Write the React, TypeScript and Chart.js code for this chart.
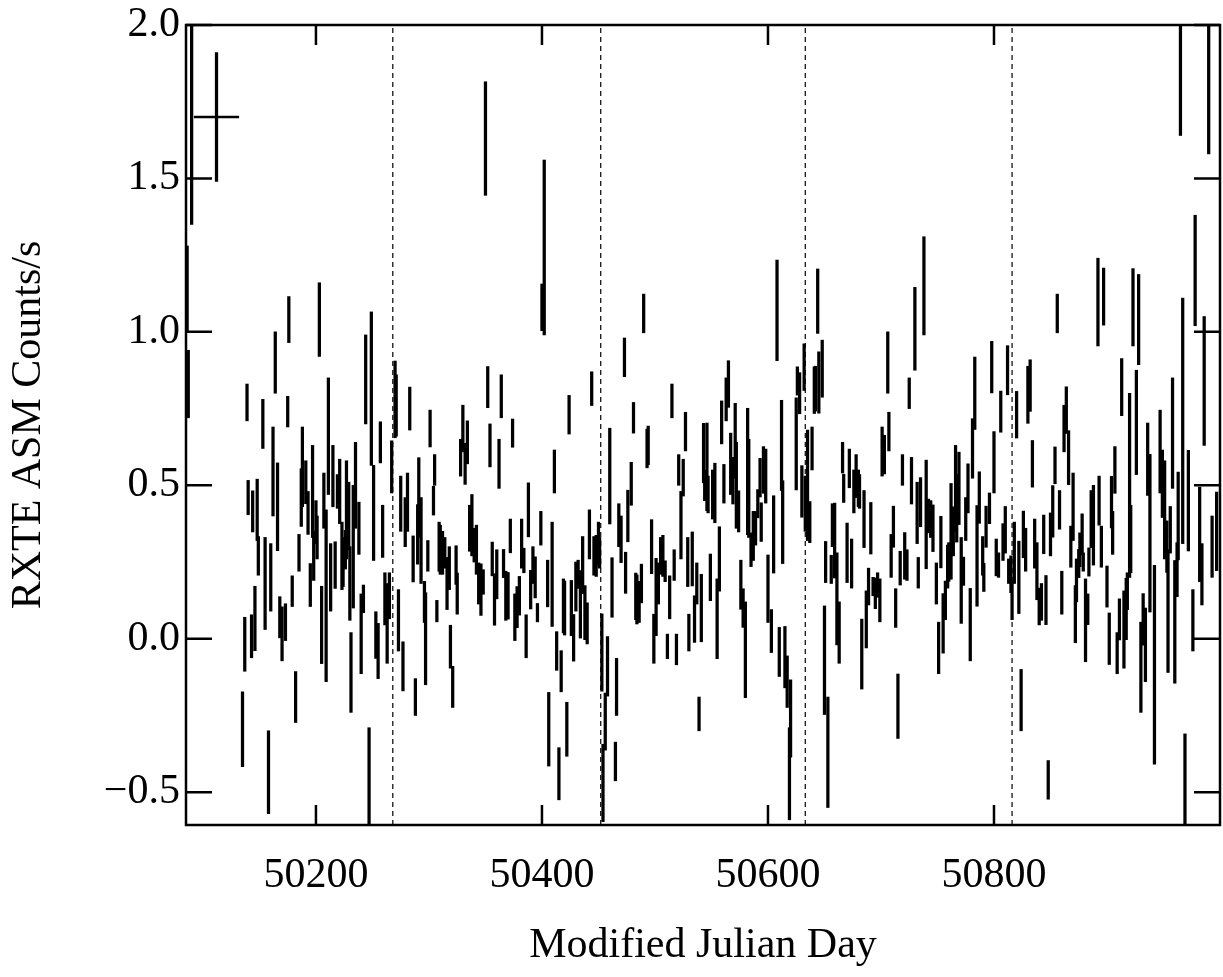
import React, { useEffect, useRef } from "react";
import { Chart, registerables } from "chart.js";

Chart.register(...registerables);

// Modified Julian Day of each 1-day average
const MJD = [
  50086, 50087, 50090, 50135, 50137, 50139, 50140, 50143, 50144, 50146,
  50148, 50149, 50153, 50155, 50158, 50160, 50162, 50164, 50166, 50168,
  50170, 50173, 50175, 50176, 50179, 50182, 50185, 50187, 50188, 50191,
  50193, 50195, 50197, 50198, 50200, 50201, 50203, 50205, 50207, 50209,
  50211, 50213, 50215, 50217, 50219, 50221, 50223, 50224, 50226, 50227,
  50229, 50230, 50231, 50233, 50235, 50238, 50240, 50242, 50244, 50247,
  50249, 50251, 50253, 50255, 50257, 50259, 50261, 50263, 50265, 50267,
  50270, 50271, 50273, 50275, 50277, 50279, 50281, 50283, 50286, 50288,
  50290, 50291, 50293, 50296, 50297, 50299, 50301, 50304, 50305, 50307,
  50309, 50310, 50312, 50314, 50316, 50318, 50319, 50321, 50324, 50325,
  50328, 50330, 50332, 50334, 50336, 50338, 50340, 50342, 50344, 50346,
  50348, 50350, 50352, 50354, 50356, 50358, 50360, 50362, 50364, 50366,
  50368, 50370, 50372, 50374, 50376, 50378, 50380, 50382, 50384, 50386,
  50388, 50390, 50392, 50394, 50396, 50399, 50400, 50402, 50405, 50406,
  50409, 50411, 50413, 50415, 50417, 50419, 50420, 50422, 50424, 50426,
  50428, 50430, 50432, 50434, 50436, 50438, 50440, 50442, 50444, 50446,
  50448, 50450, 50451, 50453, 50454, 50456, 50458, 50460, 50462, 50465,
  50466, 50468, 50470, 50473, 50474, 50476, 50479, 50481, 50483, 50484,
  50486, 50488, 50490, 50493, 50494, 50497, 50499, 50501, 50503, 50505,
  50507, 50509, 50511, 50513, 50515, 50517, 50519, 50521, 50523, 50525,
  50527, 50529, 50530, 50533, 50535, 50537, 50539, 50541, 50543, 50544,
  50546, 50547, 50549, 50551, 50553, 50555, 50557, 50559, 50561, 50563,
  50565, 50567, 50569, 50571, 50572, 50574, 50576, 50578, 50580, 50582,
  50583, 50585, 50587, 50589, 50591, 50593, 50594, 50596, 50598, 50600,
  50603, 50605, 50608, 50610, 50612, 50613, 50615, 50617, 50619, 50620,
  50625, 50626, 50628, 50630, 50632, 50633, 50635, 50637, 50639, 50641,
  50642, 50644, 50645, 50648, 50650, 50651, 50653, 50656, 50657, 50659,
  50661, 50663, 50666, 50667, 50670, 50672, 50674, 50676, 50678, 50680,
  50681, 50683, 50685, 50687, 50689, 50691, 50693, 50695, 50697, 50699,
  50701, 50703, 50706, 50707, 50709, 50711, 50713, 50715, 50717, 50719,
  50721, 50723, 50725, 50727, 50730, 50732, 50733, 50735, 50738, 50740,
  50742, 50744, 50746, 50749, 50751, 50753, 50755, 50757, 50759, 50760,
  50762, 50764, 50766, 50767, 50769, 50771, 50773, 50775, 50777, 50779,
  50781, 50783, 50785, 50787, 50790, 50791, 50793, 50796, 50798, 50800,
  50802, 50804, 50806, 50808, 50810, 50812, 50813, 50815, 50816, 50818,
  50820, 50822, 50824, 50826, 50828, 50830, 50832, 50834, 50836, 50838,
  50840, 50842, 50844, 50846, 50848, 50850, 50852, 50854, 50856, 50858,
  50860, 50862, 50864, 50866, 50868, 50870, 50872, 50873, 50875, 50876,
  50878, 50879, 50881, 50883, 50884, 50886, 50888, 50892, 50893, 50895,
  50897, 50900, 50902, 50904, 50905, 50907, 50909, 50911, 50913, 50915,
  50917, 50918, 50920, 50921, 50923, 50926, 50928, 50930, 50932, 50934,
  50936, 50938, 50942, 50947, 50949, 50951, 50953, 50954, 50956, 50958,
  50960, 50962, 50963, 50965, 50967, 50969, 50972, 50976, 50978, 50982,
  50984, 50986, 50990, 50993, 50997,
];

// ASM count rate (counts/s)
const RATE = [
  1.14, 0.83, 1.70, -0.295, -0.018, 0.77, 0.46, 0.008, 0.415, 0.066,
  0.42, 0.27, 0.70, 0.18, -0.435, 0.20, 0.545, 0.90, 0.43, 0.07,
  0.016, 0.054, 0.74, 1.04, 0.155, -0.19, 0.28, 0.46, 0.56, 0.51,
  0.41, 0.175, 0.48, 0.27, 0.38, 0.33, 1.04, 0.045, 0.45, 0.14,
  0.66, 0.20, 0.53, 0.24, 0.48, 0.48, 0.27, 0.25, 0.29, 0.42,
  0.40, 0.18, -0.11, 0.30, 0.50, 0.36, 0.016, 0.13, 0.845, -0.45,
  0.815, 0.41, 0.012, -0.04, 0.64, 0.35, 0.13, 0.05, 0.14, 0.56,
  0.78, 0.76, 0.06, 0.44, -0.09, 0.38, 0.445, 0.75, 0.26, -0.19,
  0.34, 0.46, 0.32, 0.12, 0.00, 0.27, 0.685, 0.45, 0.55, 0.09,
  0.30, 0.29, 0.28, 0.28, 0.18, 0.23, -0.026, -0.157, 0.24, 0.147,
  0.59, 0.685, 0.57, 0.64, 0.36, 0.37, 0.305, 0.29, 0.18, 0.16,
  0.185, 1.63, 0.82, 0.63, 0.26, 0.128, 0.21, 0.57, 0.79, 0.245,
  0.14, 0.14, 0.335, 0.67, 0.07, 0.103, 0.14, 0.31, 0.255, 0.008,
  0.42, 0.16, 0.24, 0.20, 0.085, 0.36, 1.08, 1.275, 0.18, -0.295,
  0.21, 0.545, -0.04, -0.44, -0.106, 0.107, 0.10, -0.295, 0.73, 0.10,
  0.003, 0.17, 0.21, 0.112, 0.24, 0.085, 0.05, 0.34, 0.815, 0.27,
  0.27, 0.31, 0.28, -0.045, -0.47, -0.27, -0.09, 0.53, 0.167, -0.40,
  -0.157, 0.37, 0.324, 0.917, 0.215, 0.40, 0.505, 0.72, 0.138, 0.128,
  0.12, 0.18, 1.06, 0.62, 0.63, 0.30, 0.00, 0.136, 0.18, 0.27,
  0.27, 0.22, -0.025, 0.135, 0.775, 0.24, -0.035, 0.55, 0.37, 0.525,
  0.675, 0.25, 0.02, 0.26, 0.064, 0.18, -0.245, 0.10, 0.605, 0.50,
  0.56, 0.47, 0.20, 0.47, 0.475, 0.065, 0.26, 0.705, 0.505, 0.78,
  0.83, 0.57, 0.515, 0.645, 0.50, 0.415, 0.176, 0.10, -0.036, 0.545,
  0.49, 0.29, 0.335, 0.36, 0.44, 0.525, 0.38, 0.55, 0.53, 0.163,
  0.025, 0.34, 1.07, -0.043, 0.63, 0.38, -0.06, -0.14, -0.44, -0.26,
  0.635, 0.84, 0.80, 0.48, 0.885, 0.44, 0.50, 0.38, 0.62, 0.81,
  0.815, 1.10, 0.835, 0.88, -0.07, 0.25, -0.37, 0.226, 0.37, 0.32,
  0.13, 0.02, 0.59, 0.49, 0.28, 0.555, 0.245, 0.48, 0.53, 0.49,
  0.48, -0.05, 0.39, 0.063, 0.17, 0.36, 0.17, 0.148, 0.175, 0.125,
  0.61, 0.60, 0.90, 0.675, 0.27, 0.365, 0.10, -0.22, 0.23, 0.55,
  0.27, 0.24, 0.80, 0.515, 1.01, 0.41, 0.215, 0.445, 1.15, 0.405,
  0.40, 0.39, 0.36, 0.18, -0.03, 0.315, 0.05, 0.125, 0.235, 0.25,
  0.35, 0.35, 0.49, 0.425, 0.49, 0.19, 0.22, 0.39, 0.49, 0.046,
  0.62, 0.80, 0.27, 0.46, 0.27, 0.20, 0.365, 0.425, 0.885, 0.575,
  0.265, 0.24, 0.74, 0.315, 0.355, 0.875, 0.22, 0.21, 0.125, 0.28,
  0.73, 0.20, -0.20, 0.34, 0.29, 0.795, 0.825, 0.57, 0.31, 0.22,
  0.105, 0.12, 0.34, 0.126, -0.46, 0.34, 0.415, 0.565, 1.06, 0.42,
  0.15, 0.685, 0.745, 0.59, 0.30, 0.43, 0.08, 0.19, 0.245, 0.29,
  0.34, 0.25, 0.06, 0.096, 0.25, 0.39, 0.37, 1.097, 0.45, 0.30,
  1.115, 0.17, 0.00, 0.445, 0.345, 0.55, -0.047, 0.063, 0.82, 0.03,
  0.097, 0.155, 0.50, 0.325, 1.08, 0.705, 1.04, -0.093, 0.063, -0.02,
  0.585, 0.344, -0.085, 0.61, 0.505, 0.42, 0.30, 0.09, 0.355, 0.67,
  0.055, 0.225, 0.40, 1.82, 0.71, -0.46, 0.45, 0.06, 1.20, 0.34,
  0.21, 0.84, 1.80, 0.30, 0.35,
];

// 1-sigma uncertainty of the rate
const ERR = [
  0.14, 0.11, 0.35, 0.122, 0.088, 0.06, 0.056, 0.07, 0.067, 0.105,
  0.10, 0.063, 0.08, 0.15, 0.135, 0.11, 0.145, 0.10, 0.143, 0.067,
  0.088, 0.06, 0.05, 0.075, 0.05, 0.083, 0.06, 0.094, 0.13, 0.07,
  0.07, 0.07, 0.15, 0.08, 0.07, 0.07, 0.12, 0.126, 0.09, 0.28,
  0.19, 0.11, 0.10, 0.076, 0.055, 0.105, 0.11, 0.08, 0.063, 0.16,
  0.11, 0.12, 0.13, 0.20, 0.14, 0.085, 0.13, 0.045, 0.145, 0.16,
  0.25, 0.155, 0.076, 0.09, 0.067, 0.085, 0.085, 0.13, 0.075, 0.085,
  0.125, 0.10, 0.10, 0.09, 0.08, 0.08, 0.095, 0.07, 0.075, 0.06,
  0.097, 0.13, 0.14, 0.067, 0.15, 0.05, 0.06, 0.047, 0.05, 0.035,
  0.08, 0.08, 0.07, 0.05, 0.085, 0.07, 0.07, 0.067, 0.063, 0.067,
  0.06, 0.076, 0.067, 0.07, 0.075, 0.10, 0.055, 0.08, 0.067, 0.084,
  0.04, 0.185, 0.067, 0.07, 0.055, 0.084, 0.08, 0.08, 0.07, 0.046,
  0.08, 0.076, 0.055, 0.046, 0.076, 0.067, 0.063, 0.08, 0.04, 0.07,
  0.088, 0.063, 0.06, 0.067, 0.03, 0.055, 0.076, 0.285, 0.076, 0.12,
  0.17, 0.07, 0.063, 0.085, 0.067, 0.088, 0.088, 0.088, 0.063, 0.09,
  0.076, 0.08, 0.046, 0.11, 0.093, 0.088, 0.067, 0.08, 0.055, 0.063,
  0.067, 0.07, 0.05, 0.126, 0.126, 0.093, 0.097, 0.156, 0.097, 0.063,
  0.093, 0.07, 0.076, 0.063, 0.067, 0.084, 0.07, 0.05, 0.076, 0.08,
  0.067, 0.063, 0.063, 0.063, 0.063, 0.088, 0.08, 0.126, 0.067, 0.06,
  0.067, 0.034, 0.04, 0.07, 0.055, 0.05, 0.05, 0.05, 0.11, 0.06,
  0.063, 0.08, 0.06, 0.088, 0.076, 0.067, 0.055, 0.11, 0.097, 0.05,
  0.143, 0.06, 0.076, 0.08, 0.097, 0.13, 0.105, 0.07, 0.063, 0.07,
  0.076, 0.10, 0.076, 0.122, 0.14, 0.067, 0.08, 0.063, 0.156, 0.206,
  0.16, 0.055, 0.08, 0.055, 0.046, 0.063, 0.063, 0.076, 0.088, 0.11,
  0.07, 0.126, 0.164, 0.08, 0.147, 0.135, 0.10, 0.084, 0.15, 0.126,
  0.15, 0.046, 0.067, 0.084, 0.076, 0.09, 0.18, 0.067, 0.07, 0.076,
  0.073, 0.105, 0.10, 0.093, 0.177, 0.067, 0.18, 0.046, 0.07, 0.122,
  0.15, 0.10, 0.05, 0.046, 0.097, 0.063, 0.08, 0.07, 0.07, 0.06,
  0.055, 0.114, 0.093, 0.093, 0.06, 0.084, 0.03, 0.05, 0.04, 0.07,
  0.08, 0.063, 0.10, 0.063, 0.07, 0.067, 0.063, 0.105, 0.055, 0.05,
  0.076, 0.05, 0.05, 0.076, 0.135, 0.10, 0.05, 0.08, 0.16, 0.177,
  0.055, 0.06, 0.076, 0.067, 0.084, 0.084, 0.097, 0.063, 0.07, 0.063,
  0.156, 0.08, 0.14, 0.11, 0.118, 0.14, 0.046, 0.07, 0.08, 0.118,
  0.097, 0.118, 0.164, 0.084, 0.063, 0.046, 0.067, 0.05, 0.084, 0.10,
  0.06, 0.04, 0.067, 0.06, 0.076, 0.08, 0.04, 0.06, 0.063, 0.10,
  0.076, 0.118, 0.10, 0.076, 0.07, 0.093, 0.084, 0.076, 0.08, 0.093,
  0.06, 0.06, 0.063, 0.08, 0.063, 0.07, 0.084, 0.06, 0.063, 0.063,
  0.07, 0.076, 0.076, 0.088, 0.067, 0.11, 0.093, 0.07, 0.046, 0.055,
  0.067, 0.03, 0.135, 0.05, 0.046, 0.093, 0.13, 0.143, 0.08, 0.067,
  0.093, 0.067, 0.084, 0.084, 0.07, 0.076, 0.067, 0.067, 0.093, 0.126,
  0.10, 0.06, 0.30, 0.11, 0.126, 0.17, 0.147, 0.147, 0.084, 0.12,
  0.118, 0.257, 0.324, 0.135, 0.11, 0.16, 0.084, 0.20, 0.076, 0.18,
  0.20, 0.088, 0.143, 0.18, 0.40, 0.15, 0.164, 0.10, 0.18, 0.154,
  0.10, 0.21, 0.22, 0.10, 0.128,
];

// Representative error cross (top-left)
const CROSS_MJD = [50112];
const CROSS_RATE = [1.7];
const CROSS_ERR = [0.21];
const CROSS_XERR = [20];

// Vertical dashed markers (orbital period epochs)
const MARK_MJD = [50268, 50452, 50633, 50816];

// Axes
const X_RANGE = [50085, 51000];
const Y_RANGE = [-0.607, 2.0];
const X_TICKS = [50200, 50400, 50600, 50800];
const X_TICK_LABELS = ["50200", "50400", "50600", "50800"];
const Y_TICKS = [-0.5, 0, 0.5, 1.0, 1.5, 2.0];
const Y_TICK_LABELS = ["\u22120.5", "0.0", "0.5", "1.0", "1.5", "2.0"];

const FONT_FAMILY = '"Liberation Serif", "Times New Roman", Times, serif';

const framePlugin = {
  id: "frameTicks",
  afterDatasetsDraw(chart: any) {
    const { ctx, chartArea, scales } = chart;
    const { left, right, top, bottom } = chartArea;
    const x = scales.x;
    const y = scales.y;
    ctx.save();
    ctx.strokeStyle = "#000";
    ctx.lineWidth = 2.5;
    ctx.beginPath();
    X_TICKS.forEach((v) => {
      const px = x.getPixelForValue(v);
      ctx.moveTo(px, bottom);
      ctx.lineTo(px, bottom - 20);
      ctx.moveTo(px, top);
      ctx.lineTo(px, top + 20);
    });
    Y_TICKS.forEach((v) => {
      const py = y.getPixelForValue(v);
      ctx.moveTo(left, py);
      ctx.lineTo(left + 26, py);
      ctx.moveTo(right, py);
      ctx.lineTo(right - 26, py);
    });
    ctx.stroke();
    ctx.strokeRect(left, top, right - left, bottom - top);
    ctx.restore();
  },
};

export default function App() {
  const ref = useRef<HTMLCanvasElement>(null);

  useEffect(() => {
    if (!ref.current) return;
    const bars = MJD.map((m, i) => ({ x: m, y: [RATE[i] - ERR[i], RATE[i] + ERR[i]] }));
    const crossV = CROSS_MJD.map((m, i) => ({
      x: m,
      y: [CROSS_RATE[i] - CROSS_ERR[i], CROSS_RATE[i] + CROSS_ERR[i]],
    }));
    const crossH = [
      { x: CROSS_MJD[0] - CROSS_XERR[0], y: CROSS_RATE[0] },
      { x: CROSS_MJD[0] + CROSS_XERR[0], y: CROSS_RATE[0] },
    ];
    const markSets = MARK_MJD.map((m) => ({
      type: "line" as const,
      data: [
        { x: m, y: Y_RANGE[0] },
        { x: m, y: Y_RANGE[1] },
      ],
      borderColor: "#000",
      borderWidth: 1.2,
      borderDash: [5, 4],
      pointRadius: 0,
      fill: false,
      tension: 0,
    }));

    const chart = new Chart(ref.current, {
      type: "bar",
      data: {
        datasets: [
          {
            type: "bar",
            data: bars as any,
            backgroundColor: "#000",
            borderWidth: 0,
            barThickness: 2.6,
            grouped: false,
          } as any,
          {
            type: "bar",
            data: crossV as any,
            backgroundColor: "#000",
            borderWidth: 0,
            barThickness: 2.6,
            grouped: false,
          } as any,
          {
            type: "line",
            data: crossH,
            borderColor: "#000",
            borderWidth: 2.5,
            pointRadius: 0,
            fill: false,
          } as any,
          ...(markSets as any[]),
        ],
      },
      options: {
        animation: false,
        responsive: false,
        devicePixelRatio: 1,
        layout: { padding: { left: 0, top: 25, right: 3, bottom: 0 } },
        plugins: {
          legend: { display: false },
          tooltip: { enabled: false },
        },
        scales: {
          x: {
            type: "linear",
            min: X_RANGE[0],
            max: X_RANGE[1],
            offset: false,
            grid: { display: false, drawTicks: false, offset: false },
            border: { display: false },
            afterBuildTicks: (s: any) => {
              s.ticks = X_TICKS.map((v) => ({ value: v }));
            },
            afterFit: (s: any) => {
              s.height = 152;
              s.paddingLeft = 0;
              s.paddingRight = 0;
            },
            ticks: {
              color: "#000",
              font: { family: FONT_FAMILY, size: 42 },
              padding: 26,
              autoSkip: false,
              maxRotation: 0,
              minRotation: 0,
              callback: (_v: any, i: number) => X_TICK_LABELS[i],
            },
            title: {
              display: true,
              text: "Modified Julian Day",
              color: "#000",
              font: { family: FONT_FAMILY, size: 42 },
              padding: { top: 0, bottom: 6 },
            },
          },
          y: {
            type: "linear",
            min: Y_RANGE[0],
            max: Y_RANGE[1],
            grid: { display: false, drawTicks: false },
            border: { display: false },
            afterBuildTicks: (s: any) => {
              s.ticks = Y_TICKS.map((v) => ({ value: v }));
            },
            afterFit: (s: any) => {
              s.width = 186;
              s.paddingTop = 0;
              s.paddingBottom = 0;
            },
            ticks: {
              color: "#000",
              font: { family: FONT_FAMILY, size: 42 },
              padding: 6,
              autoSkip: false,
              callback: (_v: any, i: number) => Y_TICK_LABELS[i],
            },
            title: {
              display: true,
              text: "RXTE ASM Counts/s",
              color: "#000",
              font: { family: FONT_FAMILY, size: 42 },
              padding: { top: 4, bottom: 0 },
            },
          },
        },
      } as any,
      plugins: [framePlugin],
    });
    return () => chart.destroy();
  }, []);

  return (
    <div style={{ position: "fixed", left: 0, top: 0, width: 1223, height: 977, background: "#fff" }}>
      <canvas ref={ref} width={1223} height={977} style={{ display: "block", width: 1223, height: 977 }} />
    </div>
  );
}
